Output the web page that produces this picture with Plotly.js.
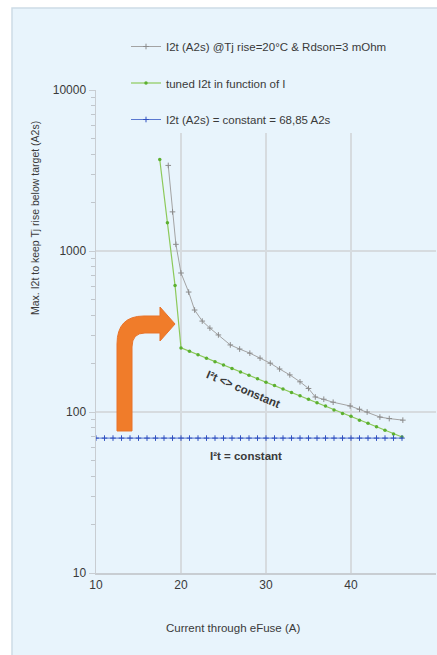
<!DOCTYPE html>
<html>
<head>
<meta charset="utf-8">
<script src="https://cdn.plot.ly/plotly-3.0.1.min.js"></script>
<style>html,body{margin:0;padding:0;background:#fff;}#chart{width:437px;height:655px;}</style>
</head>
<body>
<div id="chart"></div>
<script>
// ---- data ----
var grayName = "I2t (A2s) @Tj rise=20°C & Rdson=3 mOhm";
var grayX = [18.5, 19.0, 19.4, 20.0, 20.9, 21.6, 22.5, 23.4, 24.4, 25.8, 26.9, 28.1, 29.3, 30.5, 31.6, 32.8, 34.0, 35.0, 35.8, 36.8, 37.9, 39.9, 41.0, 41.9, 43.4, 44.5, 46.1];
var grayY = [3400, 1750, 1100, 730, 556, 430, 367, 332, 301, 261, 246, 232, 216, 201, 185, 170, 154, 140, 124, 120, 115, 109, 104, 100, 93, 91, 89];

var greenName = "tuned I2t in function of I";
var greenX = [17.5, 18.4, 19.3, 20, 21, 22, 23, 24, 25, 26, 27, 28, 29, 30, 31, 32, 33, 34, 35, 36, 37, 38, 39, 40, 41, 42, 43, 44, 45, 46];
var greenY = [3700, 1500, 610, 250, 238, 227, 216, 205, 196, 186, 177, 169, 161, 153, 146, 139, 132, 126, 120, 114, 109, 103, 98, 94, 89, 85, 81, 77, 73, 70];

var blueName = "I2t (A2s) = constant = 68,85 A2s";
var blueX = [10, 11, 12, 13, 14, 15, 16, 17, 18, 19, 20, 21, 22, 23, 24, 25, 26, 27, 28, 29, 30, 31, 32, 33, 34, 35, 36, 37, 38, 39, 40, 41, 42, 43, 44, 45, 46];
var blueY = [68.85, 68.85, 68.85, 68.85, 68.85, 68.85, 68.85, 68.85, 68.85, 68.85, 68.85, 68.85, 68.85, 68.85, 68.85, 68.85, 68.85, 68.85, 68.85, 68.85, 68.85, 68.85, 68.85, 68.85, 68.85, 68.85, 68.85, 68.85, 68.85, 68.85, 68.85, 68.85, 68.85, 68.85, 68.85, 68.85, 68.85];

var yTickVals = [10, 100, 1000, 10000];
var yTickText = ["10", "100", "1000", "10000"];
var xTickVals = [10, 20, 30, 40, 50];
var xTickText = ["10", "20", "30", "40", "50"];

var xTitle = "Current through eFuse (A)";
var yTitle = "Max. I2t to keep Tj rise below target (A2s)";
var noteVar = "I²t <> constant";
var noteConst = "I²t = constant";

// ---- layout geometry ----
var W = 437, H = 655;
var M = {l: 96, r: 1, t: 90, b: 82};
var PW = W - M.l - M.r, PH = H - M.t - M.b;
function px(x) { return (x - M.l) / PW; }
function py(y) { return (H - M.b - y) / PH; }

var BG = "#e8f4fc";
var FONT = "Liberation Sans, Arial, sans-serif";
var TXT = "#3a3a3a";

// bent arrow outline (pixel coords -> paper)
var arrowPts = [
  ["M", 117, 431], ["L", 132, 431], ["L", 132, 347],
  ["Q", 132, 333, 145, 333], ["L", 160, 333], ["L", 160, 341],
  ["L", 175, 324], ["L", 160, 307], ["L", 160, 316],
  ["L", 144, 316], ["Q", 117, 316, 117, 344]
];
var arrowPath = arrowPts.map(function (p) {
  var s = p[0];
  for (var i = 1; i < p.length; i += 2) s += " " + px(p[i]).toFixed(4) + "," + py(p[i + 1]).toFixed(4);
  return s;
}).join(" ") + " Z";

var traces = [
  {x: grayX, y: grayY, name: grayName, type: "scatter", mode: "lines+markers",
   line: {color: "#a3a3a3", width: 1}, marker: {symbol: "cross-thin-open", size: 4, color: "#8c8c8c", line: {color: "#8c8c8c", width: 1}},
   legendgroup: "a"},
  {x: greenX, y: greenY, name: greenName, type: "scatter", mode: "lines+markers",
   line: {color: "#8cc95a", width: 1.2}, marker: {symbol: "circle", size: 3.5, color: "#5cb030"},
   legendgroup: "b"},
  {x: blueX, y: blueY, name: blueName, type: "scatter", mode: "lines+markers",
   line: {color: "#5a78d0", width: 1}, marker: {symbol: "cross-thin-open", size: 4, color: "#2f4fc0", line: {color: "#2f4fc0", width: 1}},
   legendgroup: "c"}
];

var layout = {
  width: W, height: H,
  margin: M,
  paper_bgcolor: "#ffffff",
  plot_bgcolor: "rgba(0,0,0,0)",
  font: {family: FONT, size: 12, color: TXT},
  showlegend: true,
  legend: {x: px(126), y: py(32), xanchor: "left", yanchor: "top",
           bgcolor: "rgba(0,0,0,0)", borderwidth: 0, tracegroupgap: 17.5,
           traceorder: "grouped", font: {family: FONT, size: 11.5, color: TXT}},
  xaxis: {type: "linear", range: [10, 50], tickvals: xTickVals, ticktext: xTickText,
          showgrid: true, gridcolor: "#d6dbdf", gridwidth: 1.5, zeroline: false,
          showline: true, linecolor: "#c8cdd2", linewidth: 1.5, ticks: "",
          tickfont: {size: 12, color: TXT}, fixedrange: true},
  yaxis: {type: "log", range: [1, 4], tickvals: yTickVals, ticktext: yTickText,
          showgrid: true, gridcolor: "#d6dbdf", gridwidth: 1.5, zeroline: false,
          showline: true, linecolor: "#c8cdd2", linewidth: 1.5,
          ticks: "outside", ticklen: 6, tickcolor: "#c8cdd2",
          minor: {ticks: "outside", ticklen: 4, tickcolor: "#c0c6cc", dtick: "D1", showgrid: false},
          tickfont: {size: 12, color: TXT}, fixedrange: true},
  shapes: [
    {type: "rect", xref: "paper", yref: "paper", layer: "below",
     x0: px(12), x1: px(W + 5), y0: py(H + 5), y1: py(8),
     fillcolor: BG, line: {color: "#cddbe6", width: 1.5}},
    {type: "rect", xref: "paper", yref: "paper", layer: "above",
     x0: px(115), x1: px(433), y0: py(133), y1: py(28),
     fillcolor: BG, line: {width: 0}},
    {type: "path", xref: "paper", yref: "paper", layer: "above",
     path: arrowPath, fillcolor: "#f07c2a", line: {color: "#e8732a", width: 1}}
  ],
  annotations: [
    {text: xTitle, xref: "paper", yref: "paper", x: px(233), y: py(628),
     xanchor: "center", yanchor: "middle",
     showarrow: false, font: {size: 11.5, color: TXT}},
    {text: yTitle, xref: "paper", yref: "paper", x: px(35), y: py(218), textangle: -90,
     xanchor: "center", yanchor: "middle",
     showarrow: false, font: {size: 10.5, color: TXT}},
    {text: "<b>" + noteVar + "</b>", xref: "paper", yref: "paper", x: px(243), y: py(389), textangle: 23,
     xanchor: "center", yanchor: "middle",
     showarrow: false, font: {size: 11.5, color: TXT}},
    {text: "<b>" + noteConst + "</b>", xref: "paper", yref: "paper", x: px(246), y: py(456),
     xanchor: "center", yanchor: "middle",
     showarrow: false, font: {size: 11.5, color: TXT}}
  ]
};

Plotly.newPlot("chart", traces, layout, {displayModeBar: false, staticPlot: true});
</script>
</body>
</html>
